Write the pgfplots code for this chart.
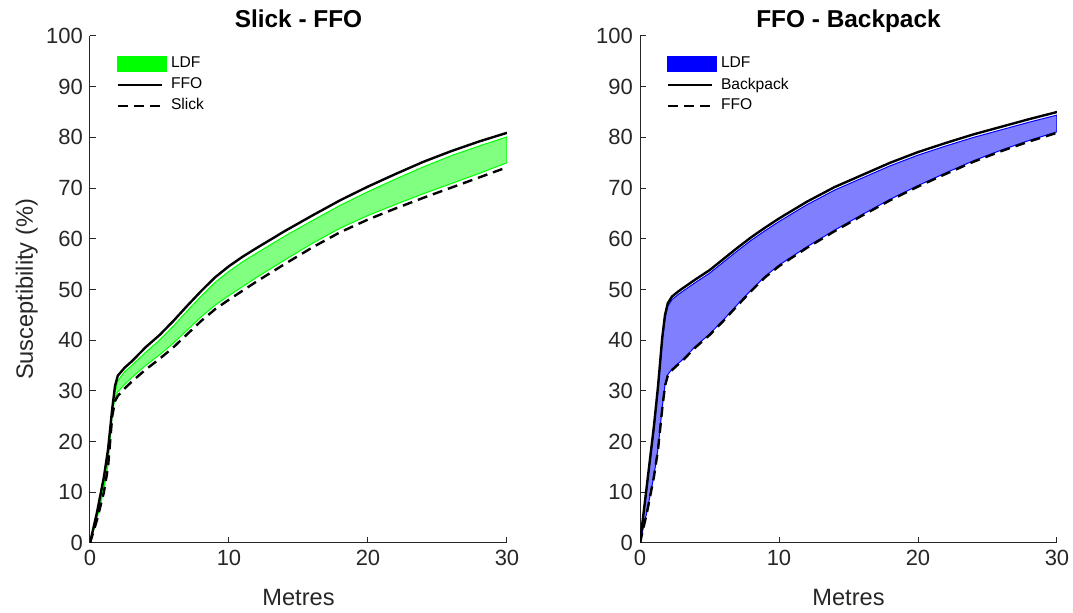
\documentclass[border=0pt]{standalone}
\usepackage{fontspec}
\setmainfont{Liberation Sans}
\usepackage{pgfplots}
\usepackage{pgfplotstable}
\pgfplotsset{compat=1.18}
\usepgfplotslibrary{fillbetween}

\definecolor{axgray}{RGB}{38,38,38}

% left panel: FFO, Slick and the LDF band
\pgfplotstableread{
x    ffo   slick  lu    ll
0    0     0      0     0
0.5  6.0   4.5    5.5   4.8
1.0  13.0  10.0   12.0  10.5
1.3  18.5  15.0   17.5  15.5
1.6  26.5  25.0   25.5  25.5
1.8  31.0  28.0   29.8  28.6
2.0  33.0  29.0   32.0  29.8
2.5  34.6  30.5   33.8  31.3
3    35.8  31.8   35.0  32.6
4    38.6  34.2   37.6  35.0
5    41.0  36.3   40.0  37.1
6    43.8  38.6   42.8  39.4
7    46.8  41.2   45.8  42.0
8    49.7  43.8   48.7  44.6
9    52.4  46.1   51.4  46.9
10   54.6  48.0   53.6  48.8
11   56.5  49.8   55.5  50.6
12   58.2  51.6   57.2  52.4
14   61.5  55.0   60.5  55.8
16   64.6  58.3   63.6  59.1
18   67.6  61.3   66.6  62.1
20   70.3  63.8   69.3  64.6
22   72.8  66.0   71.8  66.8
24   75.2  68.1   74.2  68.9
26   77.3  70.1   76.4  70.9
28   79.2  72.1   78.3  72.9
30   80.9  74.1   80.1  75.0
}\lefttab

% right panel: Backpack, FFO and the LDF band
\pgfplotstableread{
x    bp    ffo   bu    bl
0    0     0     0     0
0.5  11.5  6.0   11.0  6.2
1.0  23.0  13.0  22.3  13.2
1.3  31.0  18.5  30.3  18.7
1.6  40.5  26.5  39.8  26.7
1.8  45.0  31.0  44.3  31.2
2.0  47.3  33.0  46.7  33.2
2.3  48.6  34.1  48.0  34.3
2.7  49.5  35.1  48.9  35.3
3    50.1  35.8  49.5  36.0
4    52.0  38.6  51.4  38.8
5    53.8  41.0  53.2  41.2
6    56.0  43.8  55.4  44.0
7    58.2  46.8  57.6  47.0
8    60.3  49.7  59.7  49.9
9    62.2  52.4  61.6  52.6
10   64.0  54.6  63.4  54.8
12   67.3  58.2  66.7  58.4
14   70.2  61.5  69.6  61.7
16   72.6  64.6  72.0  64.8
18   75.0  67.6  74.4  67.8
20   77.1  70.3  76.5  70.5
22   78.9  72.8  78.3  73.0
24   80.6  75.2  80.0  75.4
26   82.1  77.3  81.5  77.5
28   83.6  79.2  83.0  79.4
30   85.0  80.9  84.4  81.1
}\righttab

\pgfplotsset{
  panel/.style={
    scale only axis, width=208.5pt, height=253.5pt,
    xmin=0, xmax=30, ymin=0, ymax=100,
    axis x line*=bottom, axis y line*=left,
    axis line style={axgray, line width=0.5pt},
    tick align=inside, major tick length=3pt,
    tick style={axgray, line width=0.5pt},
    xtick={0,10,20,30}, ytick={0,10,...,100},
    minor tick num=0,
    /pgf/number format/assume math mode=true,
    ticklabel style={font=\fontsize{11}{13}\selectfont, text=axgray},
    label style={font=\fontsize{11.8}{14}\selectfont, text=axgray},
    title style={font=\bfseries\fontsize{12.2}{14}\selectfont,
      at={(axis description cs:0.5,1)}, anchor=base, yshift=-2pt},
    xlabel={Metres},
    xlabel style={at={(axis description cs:0.5,0)}, anchor=base, yshift=-31.5pt},
    ylabel style={at={(axis description cs:0,0.5)}, anchor=base, yshift=28.5pt},
    legend cell align=left,
    legend style={at={(0.048,0.975)}, anchor=north west, draw=none, fill=none,
      font=\fontsize{7.8}{9}\selectfont, row sep=-0.5pt,
      /tikz/every even column/.append style={column sep=1pt}},
    legend image code/.code={\draw[#1] (0pt,0pt) -- (22pt,0pt);},
  },
  blk/.style={black, line width=1.2pt},
  dsh/.style={black, line width=1.2pt, dash pattern=on 5pt off 3pt},
}

\begin{document}
\begin{tikzpicture}

\begin{axis}[panel, title={Slick - FFO}, ylabel={Susceptibility (\%)}]
\addlegendimage{legend image code/.code={\fill[green] (0pt,-3.7pt) rectangle (24.5pt,3.7pt);}}
\addplot[draw=none, name path=lu, forget plot] table[x=x, y=lu] {\lefttab};
\addplot[draw=none, name path=ll, forget plot] table[x=x, y=ll] {\lefttab};
\addplot[fill=green!50, draw=green, line width=0.5pt, forget plot] fill between[of=lu and ll];
\addplot[blk] table[x=x, y=ffo] {\lefttab};
\addplot[dsh] table[x=x, y=slick] {\lefttab};
\legend{LDF, FFO, Slick}
\end{axis}

\begin{axis}[panel, xshift=275pt, title={FFO - Backpack}]
\addlegendimage{legend image code/.code={\fill[blue] (0pt,-3.7pt) rectangle (24.5pt,3.7pt);}}
\addplot[draw=none, name path=bu, forget plot] table[x=x, y=bu] {\righttab};
\addplot[draw=none, name path=bl, forget plot] table[x=x, y=bl] {\righttab};
\addplot[fill=blue!50, draw=blue, line width=0.5pt, forget plot] fill between[of=bu and bl];
\addplot[blk] table[x=x, y=bp] {\righttab};
\addplot[dsh] table[x=x, y=ffo] {\righttab};
\legend{LDF, Backpack, FFO}
\end{axis}

\pgfresetboundingbox
\path (-45pt,-35pt) rectangle (491.5pt,271.5pt);
\end{tikzpicture}
\end{document}
